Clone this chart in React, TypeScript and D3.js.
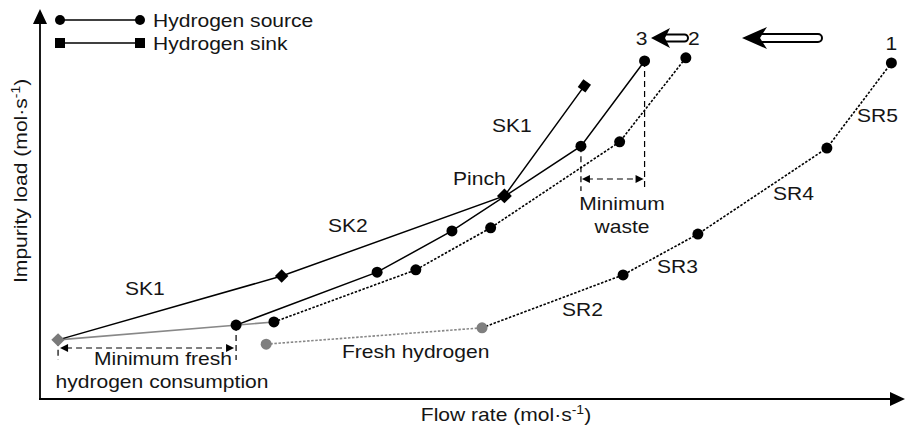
import * as d3 from "d3";
import React from "react";

// hydrogen sink composite curve
const sinkFlow = [2.1, 28.1, 54.0, 63.3];
const sinkLoad = [15.2, 31.6, 52.2, 80.5];

// source curve, position 3 (touching pinch)
const src3Flow = [22.8, 39.2, 47.9, 62.9, 70.3];
const src3Load = [19.0, 32.6, 43.2, 65.0, 86.9];

// source curve, position 2
const src2Flow = [27.2, 43.7, 52.4, 67.4, 75.1];
const src2Load = [19.8, 33.2, 44.0, 66.1, 87.7];

// source curve, position 1 (SR2..SR5)
const src1Flow = [51.4, 67.8, 76.5, 91.5, 99.0];
const src1Load = [18.3, 31.9, 42.4, 64.5, 86.4];

// fresh hydrogen segments
const fresh1Flow = [26.3, 51.4];
const fresh1Load = [14.1, 18.3];
const freshGreyFlow = [2.1, 27.2];
const freshGreyLoad = [15.2, 19.8];

const W = 906, H = 425;
const FONT = "Liberation Sans, Arial, Helvetica, sans-serif";
const SX = 1.17;

const zip = (xs: number[], ys: number[]) => xs.map((x, i) => [x, ys[i]] as [number, number]);

const Label = ({ x, y, anchor = "start", children }: any) => (
    <text transform={`translate(${x},${y}) scale(${SX},1)`} textAnchor={anchor}
          fontSize={18} fontFamily={FONT} fill="#151515">{children}</text>
);

const Diamond = ({ x, y, s = 9.5, rot = 45, fill = "#000" }: any) => (
    <rect x={-s / 2} y={-s / 2} width={s} height={s} fill={fill}
          transform={`translate(${x},${y}) rotate(${rot})`} />
);

const App = () => {
    const x = d3.scaleLinear().domain([0, 100]).range([40, 900]);
    const y = d3.scaleLinear().domain([0, 100]).range([399, 10]);
    const line = d3.line<[number, number]>().x(d => x(d[0])).y(d => y(d[1]));

    const sink = zip(sinkFlow, sinkLoad);
    const s3 = zip(src3Flow, src3Load);
    const s2 = zip(src2Flow, src2Load);
    const s1 = zip(src1Flow, src1Load);
    const f1 = zip(fresh1Flow, fresh1Load);
    const fg = zip(freshGreyFlow, freshGreyLoad);

    const dash = "6,4";
    const dot = "2.5,1.6";

    // annotation anchors taken from the data
    const wasteL = x(src3Flow[3]), wasteR = x(src3Flow[4]);
    const freshL = x(sinkFlow[0]), freshR = x(src3Flow[0]);

    const head = (px: number, py: number, dir: number) =>
        `M${px},${py} L${px - dir * 8},${py - 4} L${px - dir * 8},${py + 4} Z`;

    return (
        <svg width={W} height={H} style={{ position: "absolute", left: 0, top: 0 }}>
            <rect width={W} height={H} fill="#fff" />

            {/* axes */}
            <line x1={40} y1={399} x2={40} y2={20} stroke="#000" strokeWidth={1.8} />
            <path d="M40,9 L33,24 L47,24 Z" fill="#000" />
            <line x1={39} y1={399} x2={894} y2={399} stroke="#000" strokeWidth={1.8} />
            <path d="M905,399 L890,392 L890,406 Z" fill="#000" />

            {/* legend */}
            <line x1={60} y1={20} x2={140} y2={20} stroke="#000" strokeWidth={1.5} />
            <circle cx={60} cy={20} r={5} fill="#000" />
            <circle cx={140} cy={20} r={5} fill="#000" />
            <Label x={153} y={26.5}>Hydrogen source</Label>
            <line x1={60} y1={43} x2={140} y2={43} stroke="#000" strokeWidth={1.5} />
            <rect x={55} y={38} width={10} height={10} fill="#000" />
            <rect x={135} y={38} width={10} height={10} fill="#000" />
            <Label x={153} y={49.5}>Hydrogen sink</Label>

            {/* curves */}
            <path d={line(f1) || ""} fill="none" stroke="#888" strokeWidth={1.6} strokeDasharray={dot} />
            <path d={line(s1) || ""} fill="none" stroke="#000" strokeWidth={1.6} strokeDasharray={dot} />
            <path d={line(s2) || ""} fill="none" stroke="#000" strokeWidth={1.6} strokeDasharray={dot} />
            <path d={line(fg) || ""} fill="none" stroke="#888" strokeWidth={1.6} />
            <path d={line(s3) || ""} fill="none" stroke="#000" strokeWidth={1.5} />
            <path d={line(sink) || ""} fill="none" stroke="#000" strokeWidth={1.5} />

            {/* annotation: minimum waste */}
            <line x1={wasteL} y1={y(src3Load[3])} x2={wasteL} y2={191} stroke="#000" strokeWidth={1.2} strokeDasharray={dash} />
            <line x1={wasteR} y1={y(src3Load[4])} x2={wasteR} y2={191} stroke="#000" strokeWidth={1.2} strokeDasharray={dash} />
            <line x1={wasteL + 6} y1={179} x2={wasteR - 6} y2={179} stroke="#000" strokeWidth={1.2} strokeDasharray={dash} />
            <path d={head(wasteL + 1, 179, -1)} fill="#000" />
            <path d={head(wasteR - 1, 179, 1)} fill="#000" />
            <Label x={622} y={210} anchor="middle">Minimum</Label>
            <Label x={622} y={233} anchor="middle">waste</Label>

            {/* annotation: minimum fresh hydrogen */}
            <line x1={freshL} y1={y(sinkLoad[0])} x2={freshL} y2={360} stroke="#000" strokeWidth={1.2} strokeDasharray={dash} />
            <line x1={freshR} y1={y(src3Load[0])} x2={freshR} y2={360} stroke="#000" strokeWidth={1.2} strokeDasharray={dash} />
            <line x1={freshL + 8} y1={348} x2={freshR - 8} y2={348} stroke="#000" strokeWidth={1.2} strokeDasharray={dash} />
            <path d={head(freshL + 2, 348, -1)} fill="#000" />
            <path d={head(freshR - 2, 348, 1)} fill="#000" />
            <Label x={163} y={365} anchor="middle">Minimum fresh</Label>
            <Label x={162} y={388} anchor="middle">hydrogen consumption</Label>

            {/* markers */}
            {f1.map((d, i) => <circle key={"f" + i} cx={x(d[0])} cy={y(d[1])} r={5.5} fill="#7f7f7f" />)}
            {s1.slice(1).map((d, i) => <circle key={"a" + i} cx={x(d[0])} cy={y(d[1])} r={5.5} fill="#000" />)}
            {s2.map((d, i) => <circle key={"b" + i} cx={x(d[0])} cy={y(d[1])} r={5.5} fill="#000" />)}
            {s3.map((d, i) => <circle key={"c" + i} cx={x(d[0])} cy={y(d[1])} r={5.5} fill="#000" />)}
            <Diamond x={x(sink[0][0])} y={y(sink[0][1])} fill="#7a7a7a" />
            <Diamond x={x(sink[1][0])} y={y(sink[1][1])} />
            <Diamond x={x(sink[2][0])} y={y(sink[2][1])} s={10.5} />
            <Diamond x={x(sink[3][0])} y={y(sink[3][1])} rot={36} />

            {/* shift arrows */}
            <rect x={757} y={34} width={65} height={8} rx={4} fill="#fff" stroke="#000" strokeWidth={2} />
            <path d="M742,38 L767,27 L760,38 L767,49 Z" fill="#000" />
            <rect x={660} y={34.5} width={28} height={7} rx={3.5} fill="#fff" stroke="#000" strokeWidth={2} />
            <path d="M651,38 L670,28 L665,38 L670,48 Z" fill="#000" />
            <Label x={x(src3Flow[4]) - 3} y={45} anchor="middle">3</Label>
            <Label x={x(src2Flow[4]) + 8} y={45} anchor="middle">2</Label>
            <Label x={x(src1Flow[4])} y={50} anchor="middle">1</Label>

            {/* curve labels */}
            <Label x={125} y={295}>SK1</Label>
            <Label x={328} y={232}>SK2</Label>
            <Label x={492} y={132}>SK1</Label>
            <Label x={453} y={185}>Pinch</Label>
            <Label x={342} y={358}>Fresh hydrogen</Label>
            <Label x={562} y={316}>SR2</Label>
            <Label x={657} y={273}>SR3</Label>
            <Label x={773} y={200}>SR4</Label>
            <Label x={857} y={122}>SR5</Label>

            {/* axis titles */}
            <text transform={`translate(506,421) scale(${SX},1)`} textAnchor="middle" fontSize={18} fontFamily={FONT} fill="#151515">
                Flow rate (mol·s<tspan dy={-7} fontSize={12}>-1</tspan><tspan dy={7}>)</tspan>
            </text>
            <text transform={`translate(27,283) rotate(-90) scale(${SX},1)`} textAnchor="start" fontSize={18} fontFamily={FONT} fill="#151515">
                Impurity load (mol·s<tspan dy={-7} fontSize={12}>-1</tspan><tspan dy={7}>)</tspan>
            </text>
        </svg>
    );
};

export default App;
